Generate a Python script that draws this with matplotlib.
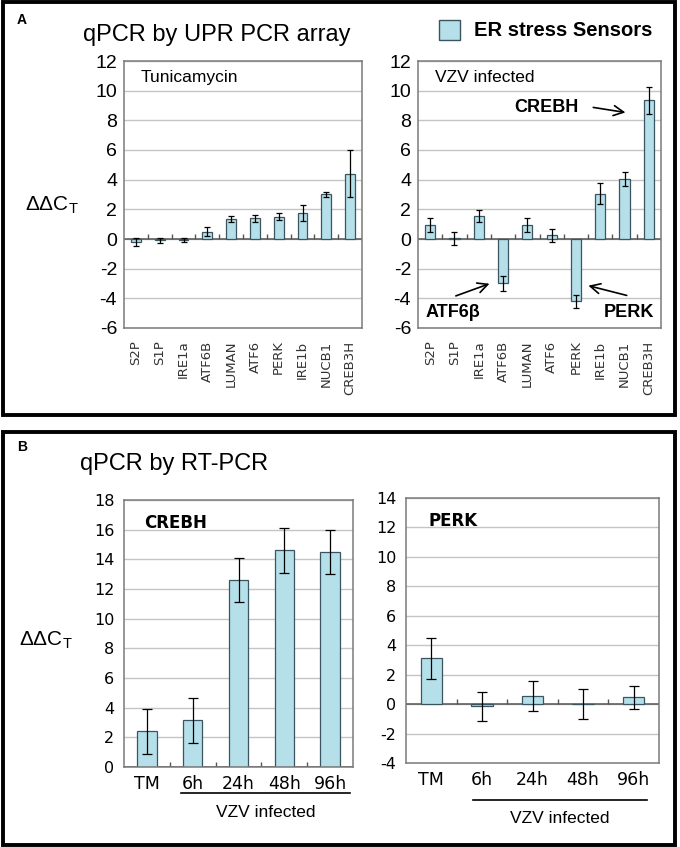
import matplotlib
matplotlib.use("Agg")
import matplotlib.pyplot as plt
from matplotlib.patches import Rectangle

plt.rcParams['axes.unicode_minus'] = False

W, H = 680, 847

# panel A: UPR PCR array
genes = ['S2P', 'S1P', 'IRE1a', 'ATF6B', 'LUMAN', 'ATF6', 'PERK', 'IRE1b', 'NUCB1', 'CREB3H']
tm_vals = [-0.2, -0.1, -0.05, 0.5, 1.35, 1.4, 1.5, 1.75, 3.0, 4.4]
tm_err = [0.3, 0.2, 0.15, 0.3, 0.2, 0.25, 0.25, 0.55, 0.2, 1.6]
vzv_vals = [0.95, 0.05, 1.55, -3.0, 0.95, 0.25, -4.2, 3.05, 4.05, 9.35]
vzv_err = [0.45, 0.45, 0.4, 0.5, 0.45, 0.45, 0.45, 0.7, 0.5, 0.9]

# panel B: RT-PCR time course
times = ['TM', '6h', '24h', '48h', '96h']
crebh_vals = [2.4, 3.15, 12.6, 14.6, 14.5]
crebh_err = [1.5, 1.5, 1.5, 1.5, 1.5]
perk_vals = [3.1, -0.15, 0.55, 0.0, 0.45]
perk_err = [1.4, 1.0, 1.05, 1.0, 0.8]

BAR = '#b5dfe9'
EDGE = '#3b5560'
SANS = ['Liberation Sans', 'DejaVu Sans']


def rect(x0, y0, x1, y1):
    return [x0 / W, 1 - y1 / H, (x1 - x0) / W, (y1 - y0) / H]


def bar_panel(ax, labels, vals, errs, ylim, step, cap, width):
    n = len(labels)
    xs = list(range(n))
    ax.bar(xs, vals, width=width, color=BAR, edgecolor=EDGE, linewidth=0.9, zorder=2,
           yerr=errs, error_kw=dict(ecolor='black', elinewidth=0.9, capsize=cap, capthick=0.9, zorder=3))
    ax.set_xlim(-0.5, n - 0.5)
    ax.set_ylim(*ylim)
    ax.set_yticks(range(ylim[0], ylim[1] + 1, step))
    ax.yaxis.grid(True, color='#c4c4c4', lw=1)
    ax.set_axisbelow(True)
    for s in ax.spines.values():
        s.set_color('#7a7a7a')
        s.set_linewidth(1.1)
    ax.axhline(0, color='#555555', lw=1.1, zorder=1.5)
    # small category separators on the zero line
    tick = (ylim[1] - ylim[0]) * 0.018
    ax.vlines([i + 0.5 for i in range(n - 1)], 0, tick, color='#555555', lw=1, zorder=1.5)
    ax.set_xticks(xs)
    ax.set_xticklabels(labels)
    ax.tick_params(length=0)


fig = plt.figure(figsize=(W / 100, H / 100), dpi=100)

# panel frames
fig.patches.append(Rectangle((3 / W, 1 - 415 / H), 672 / W, 413 / H, transform=fig.transFigure,
                             fill=False, lw=2.8, ec='black'))
fig.patches.append(Rectangle((3 / W, 1 - 845 / H), 672 / W, 413 / H, transform=fig.transFigure,
                             fill=False, lw=2.8, ec='black'))

# ---- panel A ----
axA1 = fig.add_axes(rect(124, 61, 362, 328))
axA2 = fig.add_axes(rect(418, 61, 661, 328))
for ax, vals, errs, name in [(axA1, tm_vals, tm_err, 'Tunicamycin'), (axA2, vzv_vals, vzv_err, 'VZV infected')]:
    bar_panel(ax, genes, vals, errs, (-6, 12), 2, 2.5, 0.42)
    for lab in ax.get_yticklabels():
        lab.set_family(SANS)
        lab.set_fontsize(14)
    ax.tick_params(axis='y', pad=5)
    ax.tick_params(axis='x', pad=9)
    for lab in ax.get_xticklabels():
        lab.set_rotation(90)
        lab.set_fontsize(9.5)
        lab.set_family('DejaVu Sans')
        lab.set_color('#333333')
    ax.text(0.07, 0.94, name, transform=ax.transAxes, fontsize=12.5, family=SANS, va='center')

axA2.text(3.45, 8.85, 'CREBH', fontsize=13, fontweight='bold', family=SANS, va='center')
axA2.annotate('', xy=(8.15, 8.5), xytext=(6.6, 8.9),
              arrowprops=dict(arrowstyle='->', lw=1.2, color='black', mutation_scale=18))
axA2.text(-0.2, -4.95, 'ATF6β', fontsize=13, fontweight='bold', family=SANS, va='center')
axA2.annotate('', xy=(2.55, -2.95), xytext=(0.95, -3.9),
              arrowprops=dict(arrowstyle='->', lw=1.2, color='black', mutation_scale=18))
axA2.text(9.2, -4.95, 'PERK', fontsize=13, fontweight='bold', family=SANS, va='center', ha='right')
axA2.annotate('', xy=(6.4, -3.1), xytext=(8.2, -3.85),
              arrowprops=dict(arrowstyle='->', lw=1.2, color='black', mutation_scale=18))

fig.text(17 / W, 1 - 20 / H, 'A', fontsize=10, fontweight='bold', family=SANS, va='center')
fig.text(83 / W, 1 - 35 / H, 'qPCR by UPR PCR array', fontsize=17, family=SANS, va='center')
fig.text(52 / W, 1 - 205 / H, r'$\mathregular{ΔΔC_T}$', fontsize=15, family=SANS, ha='center', va='center')

# legend
fig.patches.append(Rectangle((439 / W, 1 - 40 / H), 21 / W, 20 / H, transform=fig.transFigure,
                             fc=BAR, ec=EDGE, lw=1))
fig.text(474 / W, 1 - 30 / H, 'ER stress Sensors', fontsize=14.5, fontweight='bold', family=SANS, va='center')

# ---- panel B ----
axB1 = fig.add_axes(rect(124, 500, 353, 767))
axB2 = fig.add_axes(rect(406, 498, 659, 763))
for ax, vals, errs, ylim, name, ly, ty, lx in [
        (axB1, crebh_vals, crebh_err, (0, 18), 'CREBH', -0.099, -0.172, (0.249, 0.987)),
        (axB2, perk_vals, perk_err, (-4, 14), 'PERK', -0.14, -0.208, (0.265, 0.953))]:
    bar_panel(ax, times, vals, errs, ylim, 2, 3.5, 0.42)
    for lab in ax.get_yticklabels():
        lab.set_family('DejaVu Sans')
        lab.set_fontsize(11.5)
    for lab in ax.get_xticklabels():
        lab.set_family('DejaVu Sans')
        lab.set_fontsize(12.5)
    ax.tick_params(axis='y', pad=7)
    ax.tick_params(axis='x', pad=6)
    ax.text(0.09, 0.915, name, transform=ax.transAxes, fontsize=12, fontweight='bold',
            family='DejaVu Sans', va='center')
    ax.plot(list(lx), [ly, ly], transform=ax.transAxes, color='black', lw=1.2, clip_on=False)
    ax.text(sum(lx) / 2, ty, 'VZV infected', transform=ax.transAxes, fontsize=12.5, family=SANS,
            ha='center', va='center')

fig.text(17 / W, 1 - 447 / H, 'B', fontsize=10, fontweight='bold', family=SANS, va='center')
fig.text(80 / W, 1 - 464 / H, 'qPCR by RT-PCR', fontsize=17, family=SANS, va='center')
fig.text(46 / W, 1 - 640 / H, r'$\mathregular{ΔΔC_T}$', fontsize=15, family=SANS, ha='center', va='center')

fig.savefig('out.png', dpi=100)
